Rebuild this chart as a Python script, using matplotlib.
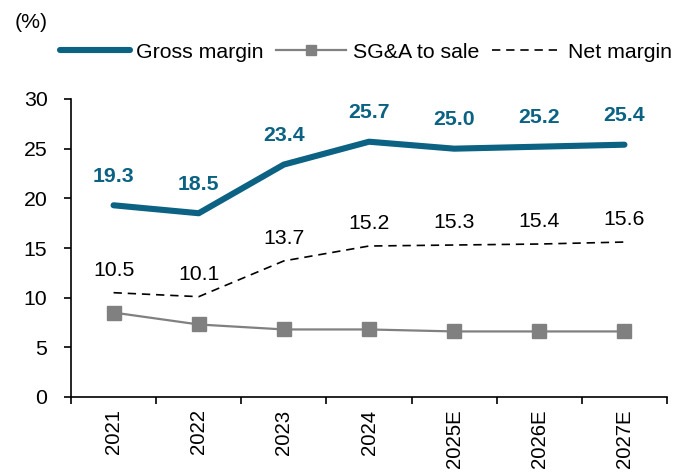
import matplotlib
matplotlib.use('Agg')
from matplotlib import pyplot as plt
from matplotlib.ticker import FixedLocator

plt.rcParams['font.family'] = ['Liberation Sans', 'DejaVu Sans']

years = ['2021', '2022', '2023', '2024', '2025E', '2026E', '2027E']
gross_margin = [19.3, 18.5, 23.4, 25.7, 25.0, 25.2, 25.4]
sga_to_sale = [8.5, 7.3, 6.8, 6.8, 6.6, 6.6, 6.6]
net_margin = [10.5, 10.1, 13.7, 15.2, 15.3, 15.4, 15.6]

teal = '#0b6283'
fs = 15.3

fig = plt.figure(figsize=(6.86, 4.74), dpi=100)
ax = fig.add_axes([71 / 686, 1 - 397 / 474, 596 / 686, 298 / 474])

x = list(range(len(years)))
h1, = ax.plot(x, gross_margin, color=teal, lw=4.4, solid_capstyle='round',
              label='Gross margin', zorder=3)
h2, = ax.plot(x, sga_to_sale, color='#808080', lw=1.6, marker='s', markersize=10,
              label='SG&A to sale', zorder=2)
h3, = ax.plot(x, net_margin, color='black', lw=1.2, ls=(0, (5, 3.5)),
              label='Net margin', zorder=2)

# data labels
for xi, v in zip(x, gross_margin):
    ax.annotate(f'{v:.1f}', (xi, v), xytext=(0, 21), textcoords='offset points',
                ha='center', va='center', color=teal, fontsize=fs, fontweight='bold')
for xi, v in zip(x, net_margin):
    ax.annotate(f'{v:.1f}', (xi, v), xytext=(0, 16), textcoords='offset points',
                ha='center', va='center', color='black', fontsize=fs)

ax.set_xlim(-0.5, len(years) - 0.5)
ax.set_ylim(0, 30)
ax.set_yticks(range(0, 31, 5))
ax.tick_params(axis='y', labelsize=fs, direction='out', length=5, width=1.2, pad=12)

# ticks between categories, labels at centres
ax.xaxis.set_major_locator(FixedLocator([i - 0.5 for i in range(len(years) + 1)]))
ax.xaxis.set_minor_locator(FixedLocator(x))
ax.set_xticklabels([])
ax.set_xticklabels(years, minor=True, rotation=90)
ax.tick_params(axis='x', which='major', direction='out', length=5, width=1.2)
ax.tick_params(axis='x', which='minor', length=0, labelsize=14.7, pad=9)

for side in ['top', 'right']:
    ax.spines[side].set_visible(False)
for side in ['left', 'bottom']:
    ax.spines[side].set_linewidth(1.2)

fig.text(15 / 686, 1 - 22 / 474, '(%)', fontsize=fs, ha='left', va='center')

fig.legend(handles=[h1, h2, h3], loc='center', bbox_to_anchor=(366 / 686, 1 - 52 / 474),
           ncol=3, frameon=False, fontsize=fs, handlelength=3.3, handletextpad=0.3,
           columnspacing=0.6, borderpad=0, markerscale=0.7)

plt.savefig('out.png', dpi=100)
plt.close(fig)
